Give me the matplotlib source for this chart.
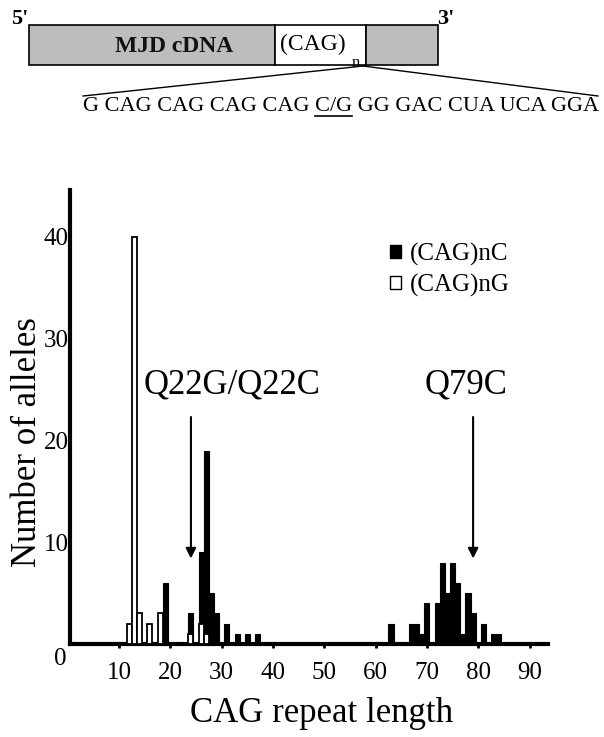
import matplotlib.pyplot as plt
from matplotlib.patches import Rectangle, Patch

plt.rcParams['font.family'] = ['Liberation Serif', 'DejaVu Serif']

# allele counts per CAG repeat length
c_len = [19, 24, 26, 27, 28, 29, 31, 33, 35, 37,
         63, 67, 68, 69, 70, 72, 73, 74, 75, 76, 77, 78, 79, 81, 83, 84]
c_count = [6, 3, 9, 19, 5, 3, 2, 1, 1, 1,
           2, 2, 2, 1, 4, 4, 8, 5, 8, 6, 1, 5, 3, 2, 1, 1]
g_len = [12, 13, 14, 16, 18, 24, 26, 27]
g_count = [2, 40, 3, 2, 3, 1, 2, 1]

x_ticks = [10, 20, 30, 40, 50, 60, 70, 80, 90]
y_ticks = [10, 20, 30, 40]
legend_labels = ['(CAG)nC', '(CAG)nG']
arrows = {'Q22G/Q22C': 24, 'Q79C': 79}
seq_head = 'G CAG CAG CAG CAG '
seq_mark = 'C/G'
seq_tail = ' GG GAC CUA UCA GGA'

W, H = 604, 737
fig = plt.figure(figsize=(W / 100, H / 100), dpi=100)

# histogram axes, placed in pixel terms
L, R, T, B = 70, 548, 190, 644
ax = fig.add_axes([L / W, 1 - B / H, (R - L) / W, (B - T) / H])
ax.bar(c_len, c_count, width=1, color='black', edgecolor='black', linewidth=0.8, zorder=2)
ax.bar(g_len, g_count, width=1, facecolor='white', edgecolor='black', linewidth=1.3, zorder=3)

ax.set_xlim(0.43, 93.6)
ax.set_ylim(0, 44.6)
for s in ['top', 'right']:
    ax.spines[s].set_visible(False)
for s in ['left', 'bottom']:
    ax.spines[s].set_linewidth(3)
ax.set_xticks(x_ticks)
ax.set_yticks(y_ticks)
ax.tick_params(axis='x', length=3, width=2, pad=10, labelsize=18)
ax.tick_params(axis='y', length=0, pad=1, labelsize=18)
ax.annotate('0', xy=(0.43, 0), xycoords='data', xytext=(-7, -3),
            textcoords='offset points', ha='center', va='top', fontsize=18)

ax.set_xlabel('CAG repeat length', fontsize=25)
ax.xaxis.set_label_coords(0.527, -0.117)
ax.set_ylabel('Number of alleles', fontsize=25)
ax.yaxis.set_label_coords(-0.055, 0.445)

for name, x in arrows.items():
    ax.annotate('', xy=(x, 8.4), xytext=(x, 22.3),
                arrowprops=dict(arrowstyle='-|>', color='black', lw=1.5,
                                mutation_scale=15, shrinkA=0, shrinkB=0))
ax.text(32, 25.4, 'Q22G/Q22C', ha='center', va='center', fontsize=25)
ax.text(77.6, 25.4, 'Q79C', ha='center', va='center', fontsize=25)

handles = [Patch(facecolor='black', edgecolor='black'),
           Patch(facecolor='white', edgecolor='black')]
ax.legend(handles, legend_labels, loc='upper left', bbox_to_anchor=(390 / W, 1 - 243 / H),
          bbox_transform=fig.transFigure, frameon=False, fontsize=18,
          handlelength=0.45, handleheight=0.45, handletextpad=0.35,
          labelspacing=0.3, borderpad=0, borderaxespad=0)

# cDNA schematic on an overlay axes in pixel units
top = fig.add_axes([0, 0, 1, 1])
top.set_xlim(0, W)
top.set_ylim(H, 0)
top.axis('off')
grey = '#bdbdbd'
top.add_patch(Rectangle((29, 25), 246, 40, facecolor=grey, edgecolor='black', lw=1.2))
top.add_patch(Rectangle((275, 25), 91, 40, facecolor='white', edgecolor='black', lw=1.2))
top.add_patch(Rectangle((366, 25), 72, 40, facecolor=grey, edgecolor='black', lw=1.2))
top.text(20, 19, "5'", fontsize=16, fontweight='bold', ha='center', va='center')
top.text(446, 19, "3'", fontsize=16, fontweight='bold', ha='center', va='center')
top.text(174, 46, 'MJD cDNA', fontsize=17, fontweight='bold', ha='center', va='center',
         color='#111111')
top.text(313, 44, '(CAG)', fontsize=17, ha='center', va='center')
top.text(356, 63, 'n', fontsize=12, ha='center', va='center')
top.plot([363, 83], [66, 96], color='black', lw=1)
top.plot([363, 598], [66, 96], color='black', lw=1)

seq = top.text(341, 106, seq_head + seq_mark + seq_tail, fontsize=16, ha='center', va='center')

# underline the C/G position
fig.canvas.draw()
r = fig.canvas.get_renderer()
x0 = seq.get_window_extent(r).x0
t1 = top.text(0, 0, seq_head + seq_mark, fontsize=16)
t2 = top.text(0, 0, seq_mark, fontsize=16)
w1 = t1.get_window_extent(r).width
w2 = t2.get_window_extent(r).width
t1.remove()
t2.remove()
top.plot([x0 + w1 - w2, x0 + w1], [116, 116], color='black', lw=1.2)

fig.savefig('out.png', dpi=100)
